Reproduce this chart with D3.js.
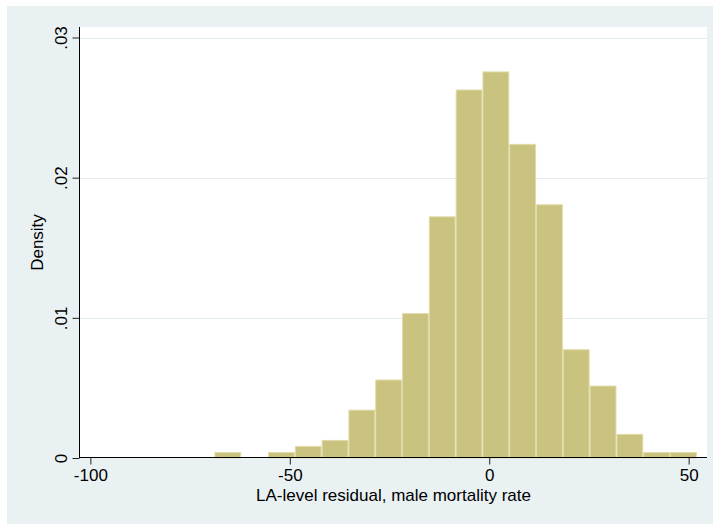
<!DOCTYPE html>
<html>
<head>
<meta charset="utf-8">
<script src="https://cdn.jsdelivr.net/npm/d3@7"></script>
<style>
  html, body { margin: 0; padding: 0; background: #ffffff; }
  svg { display: block; }
  text { font-family: Arial, "Liberation Sans", Helvetica, sans-serif; fill: #000; }
</style>
</head>
<body>
<svg id="chart" width="713" height="524"></svg>
<script>
// Histogram of LA-level residuals (male mortality rate), density scale
const binEdges = [-68.9, -62.18, -55.46, -48.74, -42.02, -35.3, -28.58, -21.86, -15.14,
                  -8.42, -1.7, 5.02, 11.74, 18.46, 25.18, 31.9, 38.62, 45.34, 52.06];
const densities = [0.00043, 0, 0.00043, 0.00086, 0.00129, 0.00345, 0.0056, 0.01034, 0.01724,
                   0.02629, 0.02758, 0.02241, 0.0181, 0.00776, 0.00517, 0.00172, 0.00043, 0.00043];
const xTicks = [-100, -50, 0, 50];
const xTickLabels = ["-100", "-50", "0", "50"];
const yTicks = [0, 0.01, 0.02, 0.03];
const yTickLabels = ["0", ".01", ".02", ".03"];
const xTitle = "LA-level residual, male mortality rate";
const yTitle = "Density";

const bins = densities.map((d, i) => ({ x0: binEdges[i], x1: binEdges[i + 1], density: d }));

const svg = d3.select("#chart");
const W = 713, H = 524;
const plot = { left: 80, right: 707, top: 27, bottom: 458 };
const fontSize = "17px";

const x = d3.scaleLinear().domain([-102.6, 54.6]).range([plot.left, plot.right]);
const y = d3.scaleLinear().domain([0, 0.03]).range([458, 37.5]);

// graph region and plot region
svg.append("rect").attr("x", 7).attr("y", 6).attr("width", W - 7).attr("height", H - 6)
  .attr("fill", "#e9f1f3");
svg.append("rect").attr("x", plot.left).attr("y", plot.top)
  .attr("width", plot.right - plot.left).attr("height", plot.bottom - plot.top)
  .attr("fill", "#ffffff");

// gridlines
svg.append("g").selectAll("line").data(yTicks.filter(t => t > 0)).join("line")
  .attr("x1", plot.left).attr("x2", plot.right)
  .attr("y1", d => Math.round(y(d)) + 0.5).attr("y2", d => Math.round(y(d)) + 0.5)
  .attr("stroke", "#e3ecef").attr("stroke-width", 1.2);

// bars
svg.append("g").selectAll("rect").data(bins.filter(b => b.density > 0)).join("rect")
  .attr("x", d => x(d.x0) + 0.5)
  .attr("width", d => x(d.x1) - x(d.x0) - 1)
  .attr("y", d => y(d.density) + 0.5)
  .attr("height", d => y(0) - y(d.density) - 0.5)
  .attr("fill", "#cac27f")
  .attr("stroke", "#e0dba8")
  .attr("stroke-width", 1);

// y axis
const yAxis = d3.axisLeft(y).tickValues(yTicks)
  .tickFormat((d, i) => yTickLabels[i]).tickSize(7).tickPadding(0);
const gy = svg.append("g").attr("transform", `translate(${plot.left - 0.5},0)`).call(yAxis);
gy.select(".domain").remove();
gy.selectAll(".tick line").attr("stroke", "#222");
gy.selectAll(".tick text")
  .attr("x", 0).attr("dy", 0)
  .attr("transform", "translate(-13,0) rotate(-90)")
  .attr("text-anchor", "middle")
  .style("font-size", fontSize);
svg.append("line").attr("x1", plot.left - 0.5).attr("x2", plot.left - 0.5)
  .attr("y1", plot.top).attr("y2", plot.bottom).attr("stroke", "#000");

// x axis
const xAxis = d3.axisBottom(x).tickValues(xTicks)
  .tickFormat((d, i) => xTickLabels[i]).tickSize(7).tickPadding(4);
const gx = svg.append("g").attr("transform", `translate(0,${plot.bottom - 0.5})`).call(xAxis);
gx.select(".domain").remove();
gx.selectAll(".tick line").attr("stroke", "#222");
gx.selectAll(".tick text").attr("dy", "0.71em").style("font-size", fontSize);
svg.append("line").attr("x1", plot.left - 0.5).attr("x2", plot.right)
  .attr("y1", plot.bottom - 0.5).attr("y2", plot.bottom - 0.5).attr("stroke", "#000");

// axis titles
svg.append("text").attr("x", (plot.left + plot.right) / 2).attr("y", 501)
  .attr("text-anchor", "middle").style("font-size", fontSize).text(xTitle);
svg.append("text").attr("transform", `translate(43,${(plot.top + plot.bottom) / 2}) rotate(-90)`)
  .attr("text-anchor", "middle").style("font-size", fontSize).text(yTitle);
</script>
</body>
</html>
